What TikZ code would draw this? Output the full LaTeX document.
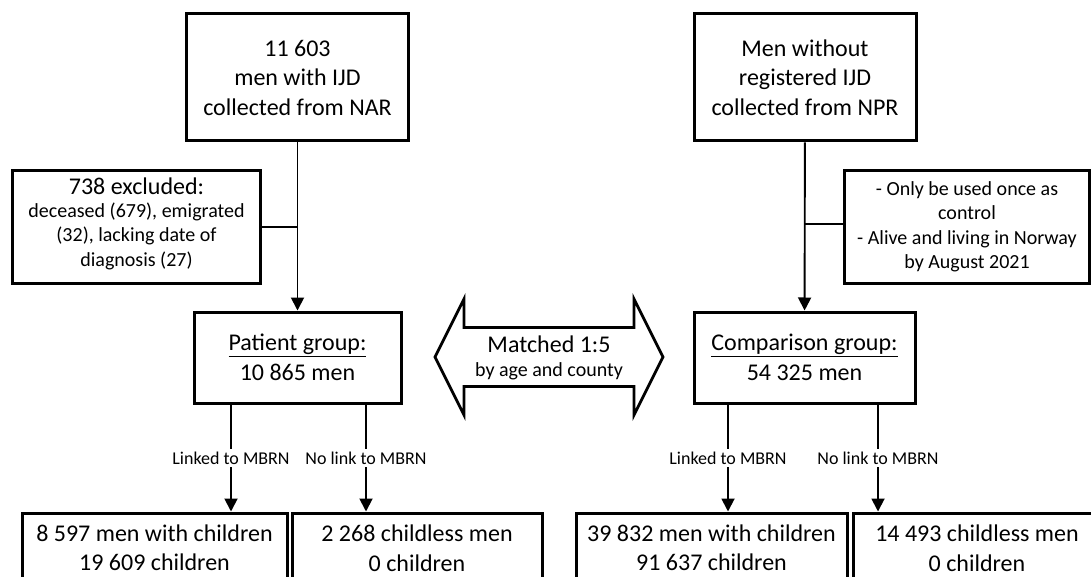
\documentclass[tikz,border=0pt]{standalone}
\usepackage{fontspec}
\setmainfont{Carlito}
\usetikzlibrary{arrows.meta}
\newcommand{\mainsize}{\fontsize{24}{29.5}\selectfont}
\newcommand{\subsize}{\fontsize{20}{24.5}\selectfont}
\newcommand{\linksize}{\fontsize{18}{22}\selectfont}

\begin{document}
\begin{tikzpicture}[x=1pt,y=-1pt]
    \tikzstyle{box}=[draw, line width=3pt, align=center, inner sep=0pt, font=\mainsize]
    \tikzstyle{link}=[line width=1.9pt]
    \tikzstyle{arr}=[link, -{Triangle[width=13pt,length=13pt]}]
    \tikzstyle{lab}=[fill=white, inner sep=3pt, font=\linksize]

    \useasboundingbox (0,0) rectangle (1091,577);
    \clip (0,0) rectangle (1091,577);

    % sources
    \node[box, minimum width=222pt, minimum height=127pt] (nar) at (297.5,77.5) {11 603\\men with IJD\\collected from NAR};
    \node[box, minimum width=222pt, minimum height=127pt] (npr) at (805,77.5) {Men without\\registered IJD\\collected from NPR};

    % side boxes
    \node[box, font=\subsize, minimum width=248pt, minimum height=113pt] (excl) at (136.5,227) {\mbox{}\\[-14pt]{\mainsize 738 excluded:}\\[-2pt]deceased (679), emigrated\\(32), lacking date of\\diagnosis (27)};
    \node[box, font=\subsize, minimum width=245pt, minimum height=113pt] (crit) at (967,227) {- Only be used once as\\control\\- Alive and living in Norway\\by August 2021};

    % groups
    \node[box, minimum width=207pt, minimum height=91pt] (patient) at (297.5,357.5) {\underline{Patient group:}\\10 865 men};
    \node[box, minimum width=221pt, minimum height=91pt] (comp) at (804.5,357.5) {\underline{Comparison group:}\\54 325 men};

    % matching
    \draw[line width=2.8pt, line join=miter] (435,357) -- (464,299) -- (464,327.5) -- (634,327.5) -- (634,299) -- (663,357) -- (634,415) -- (634,386.5) -- (464,386.5) -- (464,415) -- cycle;
    \node[align=center, font=\subsize] (match) at (549,358) {{\mainsize Matched 1:5}\\by age and county};

    % outcome boxes
    \node[box, minimum width=265pt, minimum height=70pt] (kidsP) at (154.5,548) {8 597 men with children\\19 609 children};
    \node[box, minimum width=250pt, minimum height=70pt] (nokidsP) at (417,548) {2 268 childless men\\0 children};
    \node[box, minimum width=271pt, minimum height=70pt] (kidsC) at (711.5,548) {39 832 men with children\\91 637 children};
    \node[box, minimum width=248pt, minimum height=70pt] (nokidsC) at (977,548) {14 493 childless men\\0 children};

    % connectors
    \draw[arr] (nar) -- (patient);
    \draw[arr] (npr) -- (comp);
    \draw[link] (excl.east) -- (excl.east -| nar.south);
    \draw[link] ([yshift=3pt]crit.west) -- ([yshift=3pt]crit.west -| npr.south);

    \coordinate (pl) at ([xshift=-66.5pt]patient.south);
    \coordinate (pr) at ([xshift=68.5pt]patient.south);
    \coordinate (cl) at ([xshift=-76.5pt]comp.south);
    \coordinate (cr) at ([xshift=73.5pt]comp.south);
    \draw[arr] (pl) -- (pl |- kidsP.north) node[lab, midway] {Linked to MBRN};
    \draw[arr] (pr) -- (pr |- nokidsP.north) node[lab, midway] {No link to MBRN};
    \draw[arr] (cl) -- (cl |- kidsC.north) node[lab, midway] {Linked to MBRN};
    \draw[arr] (cr) -- (cr |- nokidsC.north) node[lab, midway] {No link to MBRN};
\end{tikzpicture}
\end{document}
